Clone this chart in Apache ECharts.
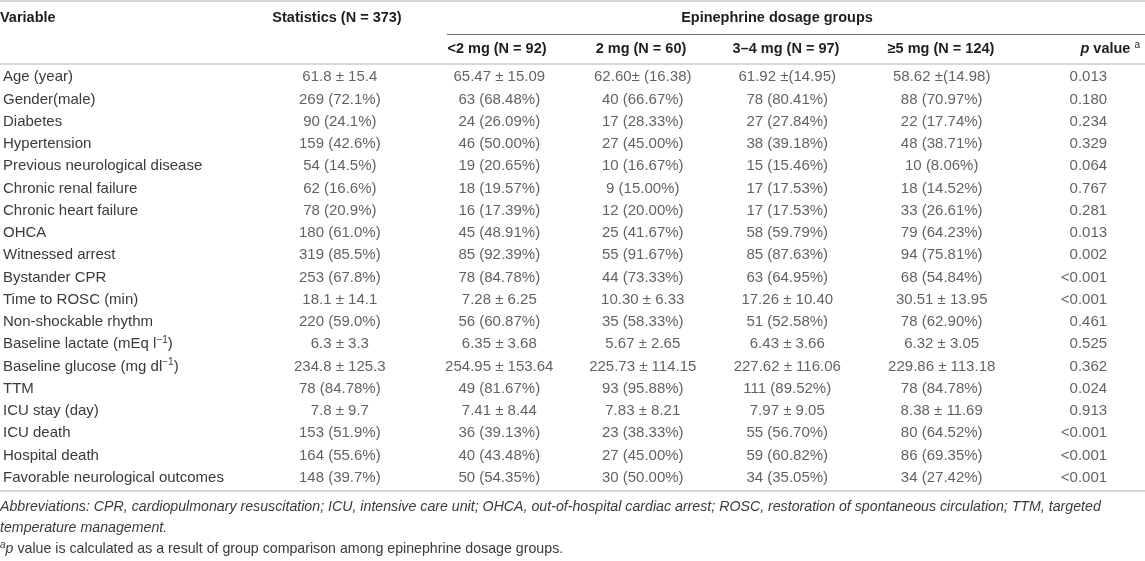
<!DOCTYPE html>
<html>
<head>
<meta charset="utf-8">
<script src="https://cdn.jsdelivr.net/npm/echarts@6/dist/echarts.min.js"></script>
<style>html,body{margin:0;padding:0;background:#fff;}#c{width:1145px;height:561px;}</style>
</head>
<body>
<div id="c"></div>
<script>
// ---------- data ----------
const variables = ["Age (year)","Gender(male)","Diabetes","Hypertension","Previous neurological disease","Chronic renal failure","Chronic heart failure","OHCA","Witnessed arrest","Bystander CPR","Time to ROSC (min)","Non-shockable rhythm","Baseline lactate (mEq l⁻¹)","Baseline glucose (mg dl⁻¹)","TTM","ICU stay (day)","ICU death","Hospital death","Favorable neurological outcomes"];
const statistics = ["61.8 ± 15.4","269 (72.1%)","90 (24.1%)","159 (42.6%)","54 (14.5%)","62 (16.6%)","78 (20.9%)","180 (61.0%)","319 (85.5%)","253 (67.8%)","18.1 ± 14.1","220 (59.0%)","6.3 ± 3.3","234.8 ± 125.3","78 (84.78%)","7.8 ± 9.7","153 (51.9%)","164 (55.6%)","148 (39.7%)"];
const lt2mg = ["65.47 ± 15.09","63 (68.48%)","24 (26.09%)","46 (50.00%)","19 (20.65%)","18 (19.57%)","16 (17.39%)","45 (48.91%)","85 (92.39%)","78 (84.78%)","7.28 ± 6.25","56 (60.87%)","6.35 ± 3.68","254.95 ± 153.64","49 (81.67%)","7.41 ± 8.44","36 (39.13%)","40 (43.48%)","50 (54.35%)"];
const mg2 = ["62.60± (16.38)","40 (66.67%)","17 (28.33%)","27 (45.00%)","10 (16.67%)","9 (15.00%)","12 (20.00%)","25 (41.67%)","55 (91.67%)","44 (73.33%)","10.30 ± 6.33","35 (58.33%)","5.67 ± 2.65","225.73 ± 114.15","93 (95.88%)","7.83 ± 8.21","23 (38.33%)","27 (45.00%)","30 (50.00%)"];
const mg3to4 = ["61.92 ±(14.95)","78 (80.41%)","27 (27.84%)","38 (39.18%)","15 (15.46%)","17 (17.53%)","17 (17.53%)","58 (59.79%)","85 (87.63%)","63 (64.95%)","17.26 ± 10.40","51 (52.58%)","6.43 ± 3.66","227.62 ± 116.06","111 (89.52%)","7.97 ± 9.05","55 (56.70%)","59 (60.82%)","34 (35.05%)"];
const ge5mg = ["58.62 ±(14.98)","88 (70.97%)","22 (17.74%)","48 (38.71%)","10 (8.06%)","18 (14.52%)","33 (26.61%)","79 (64.23%)","94 (75.81%)","68 (54.84%)","30.51 ± 13.95","78 (62.90%)","6.32 ± 3.05","229.86 ± 113.18","78 (84.78%)","8.38 ± 11.69","80 (64.52%)","86 (69.35%)","34 (27.42%)"];
const pValues = ["0.013","0.180","0.234","0.329","0.064","0.767","0.281","0.013","0.002","<0.001","<0.001","0.461","0.525","0.362","0.024","0.913","<0.001","<0.001","<0.001"];
const groupTitle = "Epinephrine dosage groups";
const columnHeaders = ["Statistics (N = 373)","<2 mg (N = 92)","2 mg (N = 60)","3–4 mg (N = 97)","≥5 mg (N = 124)"];
const footAbbrev1 = "Abbreviations: CPR, cardiopulmonary resuscitation; ICU, intensive care unit; OHCA, out-of-hospital cardiac arrest; ROSC, restoration of spontaneous circulation; TTM, targeted";
const footAbbrev2 = "temperature management.";
const footP = " value is calculated as a result of group comparison among epinephrine dosage groups.";

// ---------- layout / style ----------
const FONT = '"Liberation Sans", Arial, Helvetica, sans-serif';
const TXT = '#3a3a3a';
const HEAD = '#1e1e1e';
const FS = 15;
const HFS = 14.5;
const FFS = 14.2;
const colX = [337, 497, 641, 786, 941, 1107];
const colAlign = ['center','center','center','center','center','right'];
const columns = [statistics, lt2mg, mg2, mg3to4, ge5mg, pValues];

const chart = echarts.init(document.getElementById('c'), null, {renderer:'canvas'});

const series = columns.map((arr, c) => ({
  type: 'scatter',
  symbolSize: 0,
  silent: true,
  data: arr.map((t, i) => ({value: [colX[c], i], txt: t})),
  label: {
    show: true,
    position: 'inside',
    align: colAlign[c],
    verticalAlign: 'middle',
    fontFamily: FONT, fontSize: FS, color: TXT,
    formatter: p => p.data.txt
  }
}));

function supLabel(v) {
  const k = v.indexOf('⁻¹');
  if (k < 0) return '{n|' + v + '}';
  return '{n|' + v.slice(0, k) + '}{s|−1}{n|' + v.slice(k + 2) + '}';
}

const hdr = (text, x, y, align) => ({
  type: 'text', x: x, y: y, silent: true,
  style: {text: text, textAlign: align, textVerticalAlign: 'middle', font: 'bold ' + HFS + 'px ' + FONT, fill: HEAD}
});
const hline = (x1, x2, y, color, w) => ({
  type: 'line', silent: true, shape: {x1: x1, y1: y, x2: x2, y2: y},
  style: {stroke: color, lineWidth: w}
});

const graphics = [
  hline(0, 1145, 1, '#d8d8d8', 2),
  hline(447, 1145, 34.5, '#6a6a6a', 1),
  hline(0, 1145, 64, '#d8d8d8', 2),
  hline(0, 1145, 491, '#d8d8d8', 2),
  hdr('Variable', 0, 18, 'left'),
  hdr(columnHeaders[0], 337, 18, 'center'),
  hdr(groupTitle, 777, 18, 'center'),
  hdr(columnHeaders[1], 497, 49, 'center'),
  hdr(columnHeaders[2], 641, 49, 'center'),
  hdr(columnHeaders[3], 786, 49, 'center'),
  hdr(columnHeaders[4], 941, 49, 'center'),
  {
    type: 'text', x: 1140, y: 49, silent: true,
    style: {
      text: '{p|p}{v| value }{a|a}', textAlign: 'right', textVerticalAlign: 'middle',
      rich: {
        p: {font: 'italic bold ' + HFS + 'px ' + FONT, fill: HEAD},
        v: {font: 'bold ' + HFS + 'px ' + FONT, fill: HEAD},
        a: {font: '10px ' + FONT, fill: HEAD, verticalAlign: 'top', padding: [0,0,8,0]}
      }
    }
  },
  {
    type: 'text', x: 0, y: 507, silent: true,
    style: {text: footAbbrev1, textVerticalAlign: 'middle', font: 'italic ' + FFS + 'px ' + FONT, fill: TXT}
  },
  {
    type: 'text', x: 0, y: 528, silent: true,
    style: {text: footAbbrev2, textVerticalAlign: 'middle', font: 'italic ' + FFS + 'px ' + FONT, fill: TXT}
  },
  {
    type: 'text', x: 0, y: 549, silent: true,
    style: {
      text: '{a|a}{p|p}{n|' + footP + '}', textVerticalAlign: 'middle',
      rich: {
        a: {font: 'italic 10px ' + FONT, fill: TXT, verticalAlign: 'top', padding: [0,0,8,0]},
        p: {font: 'italic ' + FFS + 'px ' + FONT, fill: TXT},
        n: {font: FFS + 'px ' + FONT, fill: TXT}
      }
    }
  }
];

chart.setOption({
  animation: false,
  backgroundColor: '#fff',
  grid: {left: 0, right: 0, top: 66, height: 423},
  xAxis: {type: 'value', min: 0, max: 1145, show: false},
  yAxis: {
    type: 'category', inverse: true, data: variables,
    axisLine: {show: false}, axisTick: {show: false}, splitLine: {show: false},
    axisLabel: {
      inside: true, align: 'left', margin: -1, interval: 0,
      formatter: supLabel,
      rich: {
        n: {fontFamily: FONT, fontSize: FS, color: TXT},
        s: {fontFamily: FONT, fontSize: 10, color: TXT, verticalAlign: 'top', padding: [0,0,8,0]}
      }
    }
  },
  series: series,
  graphic: graphics
});
</script>
</body>
</html>
